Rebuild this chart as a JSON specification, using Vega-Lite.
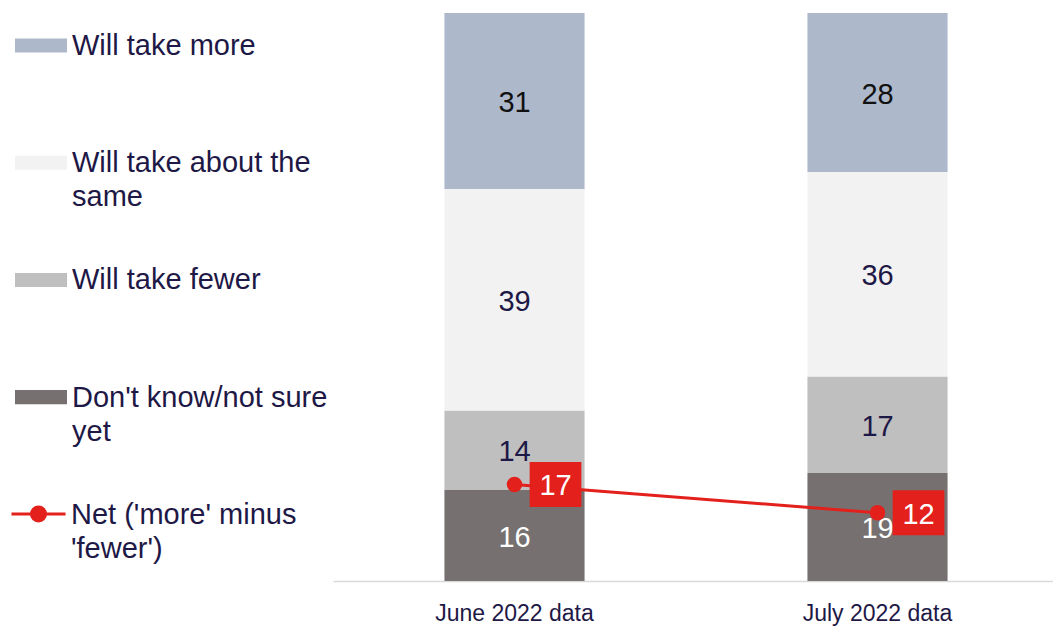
{
  "$schema": "https://vega.github.io/schema/vega-lite/v6.json",
  "width": 726,
  "height": 568,
  "autosize": {"type": "none"},
  "padding": {"left": 333, "top": 13, "right": 0, "bottom": 50},
  "config": {
    "view": {"stroke": null},
    "font": "Liberation Sans",
    "style": {"guide-label": {"lineHeight": 34}}
  },
  "datasets": {
    "bars": [
      {"period": "June 2022 data", "category": "Don't know/not sure yet", "rank": 1, "value": 16},
      {"period": "June 2022 data", "category": "Will take fewer", "rank": 2, "value": 14},
      {"period": "June 2022 data", "category": "Will take about the same", "rank": 3, "value": 39},
      {"period": "June 2022 data", "category": "Will take more", "rank": 4, "value": 31},
      {"period": "July 2022 data", "category": "Don't know/not sure yet", "rank": 1, "value": 19},
      {"period": "July 2022 data", "category": "Will take fewer", "rank": 2, "value": 17},
      {"period": "July 2022 data", "category": "Will take about the same", "rank": 3, "value": 36},
      {"period": "July 2022 data", "category": "Will take more", "rank": 4, "value": 28}
    ],
    "net": [
      {"period": "June 2022 data", "series": "Net ('more' minus 'fewer')", "net": 17},
      {"period": "July 2022 data", "series": "Net ('more' minus 'fewer')", "net": 12}
    ]
  },
  "encoding": {
    "x": {
      "field": "period",
      "type": "nominal",
      "sort": ["June 2022 data", "July 2022 data"],
      "scale": {"paddingInner": 0.614, "paddingOuter": 0.307},
      "axis": {
        "title": null,
        "labelAngle": 0,
        "ticks": false,
        "domainColor": "#d9d9d9",
        "domainWidth": 1.5,
        "labelFont": "Liberation Sans",
        "labelFontSize": 23,
        "labelColor": "#1e1846",
        "labelPadding": 21
      }
    }
  },
  "layer": [
    {
      "data": {"name": "bars"},
      "transform": [
        {"stack": "value", "groupby": ["period"], "sort": [{"field": "rank", "order": "ascending"}], "as": ["y0", "y1"]}
      ],
      "layer": [
        {
          "mark": {"type": "bar"},
          "encoding": {
            "y": {"field": "y0", "type": "quantitative", "scale": {"domain": [0, 100], "nice": false}, "axis": null},
            "y2": {"field": "y1"},
            "color": {
              "field": "category",
              "type": "nominal",
              "scale": {
                "domain": ["Will take more", "Will take about the same", "Will take fewer", "Don't know/not sure yet"],
                "range": ["#adb8cb", "#f2f2f2", "#bfbfbf", "#767170"]
              },
              "legend": {
                "orient": "none",
                "legendX": -318,
                "legendY": -7,
                "title": null,
                "direction": "vertical",
                "padding": 0,
                "labelFont": "Liberation Sans",
                "labelFontSize": 29,
                "labelColor": "#1e1846",
                "labelLimit": 400,
                "labelOffset": 5,
                "labelBaseline": "top",
                "rowPadding": 28.2,
                "gridAlign": "all",
                "symbolSize": 2704,
                "symbolStrokeWidth": 0,
                "symbolOpacity": 1,
                "symbolType": "M-1,0.25H1V0.79H-1Z",
                "labelExpr": "datum.label == 'Will take about the same' ? ['Will take about the', 'same'] : indexof(datum.label, 'Don') == 0 ? [\"Don't know/not sure\", 'yet'] : datum.label"
              }
            }
          }
        },
        {
          "transform": [
            {"fold": ["y0", "y1"], "as": ["edge", "pos"]},
            {"aggregate": [{"op": "mean", "field": "pos", "as": "mid"}, {"op": "max", "field": "value", "as": "value"}], "groupby": ["period", "category"]}
          ],
          "mark": {"type": "text", "fontSize": 29, "baseline": "middle", "align": "center", "dy": 2},
          "encoding": {
            "y": {"field": "mid", "type": "quantitative"},
            "text": {"field": "value", "type": "quantitative"},
            "color": {
              "condition": [
                {"test": "datum.category == 'Will take more'", "value": "#111111"},
                {"test": "indexof(datum.category, 'Don') == 0", "value": "#ffffff"}
              ],
              "value": "#1e1846"
            }
          }
        }
      ]
    },
    {
      "data": {"name": "net"},
      "layer": [
        {
          "mark": {"type": "line", "color": "#e3201b", "strokeWidth": 3},
          "encoding": {"y": {"field": "net", "type": "quantitative"}}
        },
        {
          "mark": {"type": "point", "filled": true, "size": 240, "opacity": 1},
          "encoding": {
            "y": {"field": "net", "type": "quantitative"},
            "fill": {
              "field": "series",
              "type": "nominal",
              "scale": {"range": ["#e3201b"]},
              "legend": {
                "orient": "none",
                "legendX": -322,
                "legendY": 460,
                "title": null,
                "padding": 0,
                "labelFont": "Liberation Sans",
                "labelFontSize": 29,
                "labelColor": "#1e1846",
                "labelLimit": 400,
                "labelOffset": 5,
                "labelBaseline": "top",
                "symbolSize": 2704,
                "symbolStrokeColor": "#e3201b",
                "symbolStrokeWidth": 3,
                "symbolOpacity": 1,
                "symbolType": "M-1.04,0.52H1.04M-0.27,0.52A0.27,0.27 0 1,1 0.27,0.52A0.27,0.27 0 1,1 -0.27,0.52Z",
                "labelExpr": "[\"Net ('more' minus\", \"'fewer')\"]"
              }
            }
          }
        },
        {
          "mark": {"type": "point", "filled": true, "color": "#e3201b", "size": 2025, "opacity": 1, "shape": "M-1.15,-1H1.15V1H-1.15Z", "xOffset": 41},
          "encoding": {"y": {"field": "net", "type": "quantitative"}}
        },
        {
          "mark": {"type": "text", "fontSize": 29, "color": "#ffffff", "align": "center", "baseline": "middle", "dx": 41, "dy": 2},
          "encoding": {
            "y": {"field": "net", "type": "quantitative"},
            "text": {"field": "net", "type": "quantitative"}
          }
        }
      ]
    }
  ]
}
